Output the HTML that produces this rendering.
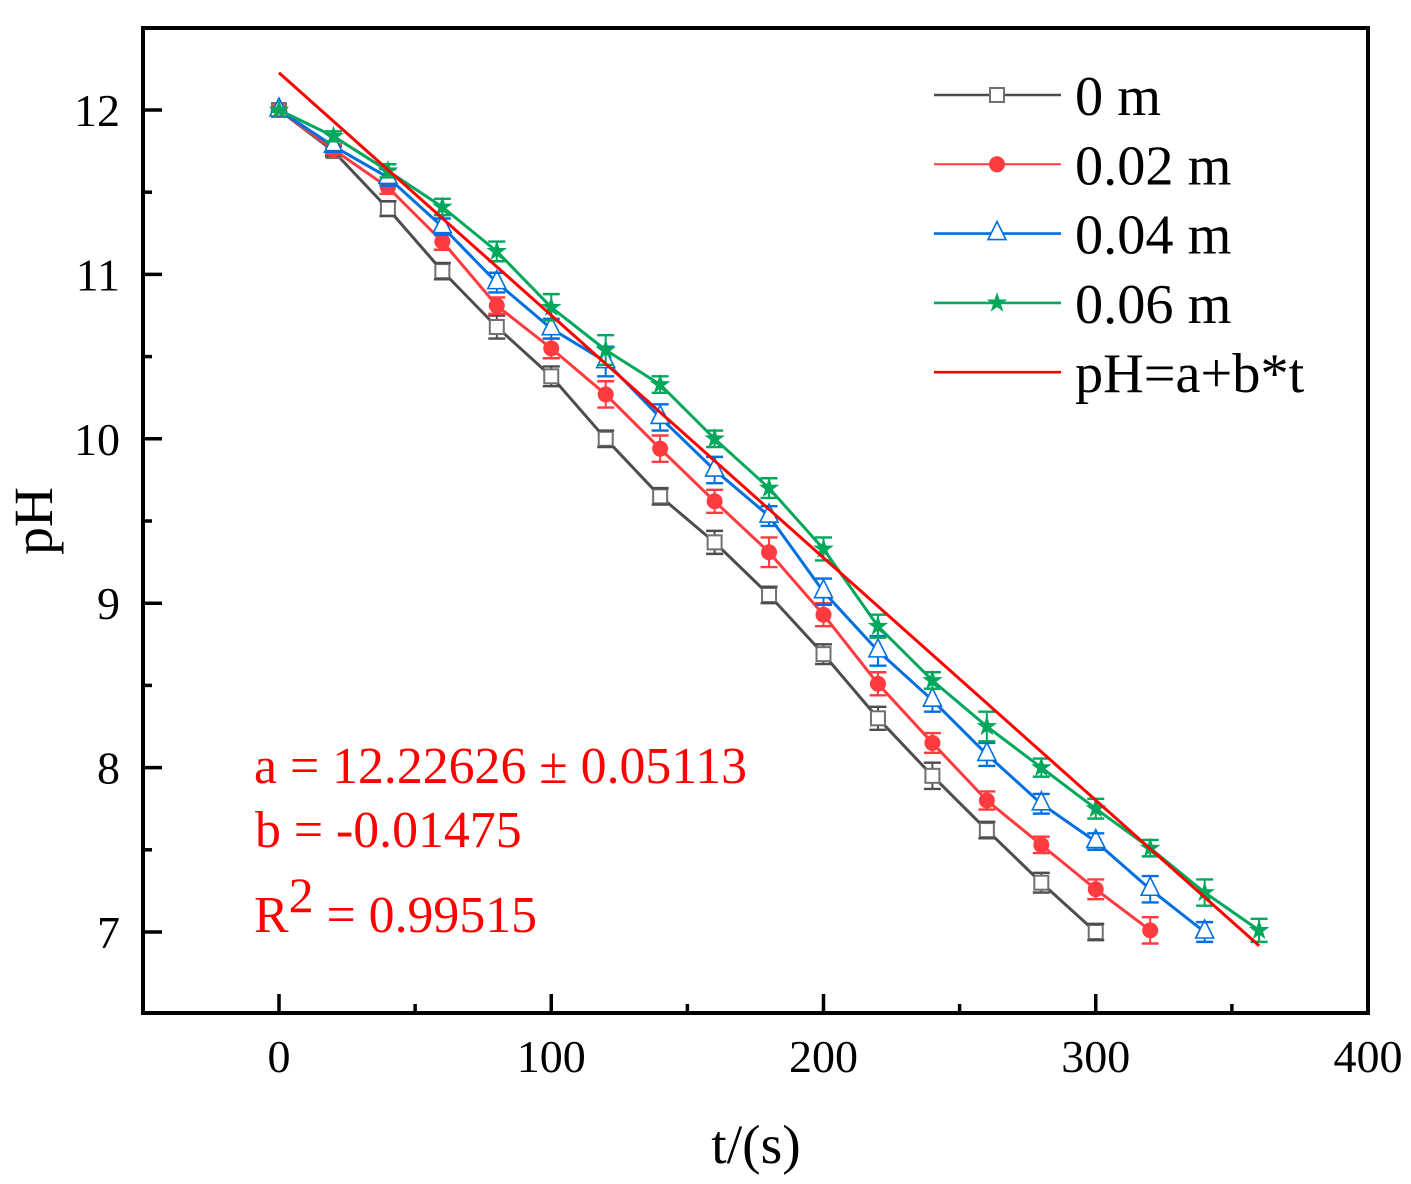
<!DOCTYPE html>
<html lang="en">
<head>
<meta charset="utf-8">
<title>pH versus time</title>
<style>
html,body{margin:0;padding:0;background:#fff;}
svg{display:block;font-family:"Liberation Serif",serif;}
</style>
</head>
<body>
<svg id="chart" width="1411" height="1184" viewBox="0 0 1411 1184" xmlns="http://www.w3.org/2000/svg">
  <rect x="0" y="0" width="1411" height="1184" fill="#ffffff"/>
  <g id="ticks"></g>
  <g id="series"></g>
  <rect x="143" y="28" width="1225" height="985" fill="none" stroke="#000" stroke-width="4"/>
  <text x="756" y="1163" font-size="55.5" text-anchor="middle" fill="#000">t/(s)</text>
  <text transform="translate(52,521) rotate(-90)" font-size="55.5" text-anchor="middle" fill="#000">pH</text>
  <g id="legend" font-size="56.3" fill="#000"></g>
  <g fill="#ff0000" font-size="51.8">
    <text x="254" y="783">a = 12.22626 ± 0.05113</text>
    <text x="255" y="847">b = -0.01475</text>
    <text x="254" y="932">R<tspan dy="-20" font-size="50">2</tspan><tspan dy="20"> = 0.99515</tspan></text>
  </g>
</svg>
<script>
const times = [0,20,40,60,80,100,120,140,160,180,200,220,240,260,280,300,320,340,360];
const ph0 = [12,11.75,11.40,11.02,10.68,10.38,10.00,9.65,9.37,9.05,8.69,8.30,7.95,7.62,7.30,7.00];
const err0 = [0.01,0.03,0.045,0.05,0.07,0.06,0.05,0.05,0.07,0.05,0.06,0.07,0.08,0.05,0.06,0.05];
const ph2 = [12,11.76,11.53,11.20,10.81,10.55,10.27,9.94,9.62,9.31,8.93,8.51,8.15,7.80,7.53,7.26,7.01];
const err2 = [0.01,0.03,0.04,0.05,0.05,0.06,0.08,0.08,0.07,0.09,0.07,0.07,0.06,0.055,0.05,0.06,0.08];
const ph4 = [12,11.78,11.59,11.29,10.95,10.67,10.47,10.13,9.81,9.53,9.07,8.71,8.41,8.08,7.78,7.55,7.26,7.00];
const err4 = [0.01,0.03,0.05,0.05,0.06,0.06,0.09,0.08,0.08,0.06,0.08,0.09,0.07,0.07,0.06,0.05,0.08,0.06];
const ph6 = [12,11.84,11.63,11.41,11.14,10.80,10.54,10.33,10.00,9.70,9.33,8.86,8.53,8.25,8.00,7.75,7.51,7.24,7.01];
const err6 = [0.01,0.03,0.04,0.05,0.06,0.08,0.09,0.05,0.05,0.06,0.07,0.07,0.05,0.09,0.055,0.06,0.05,0.08,0.07];
const fitA = 12.22626;
const fitB = -0.01475;
const fitRange = [0,360];
const xMajor = [0,100,200,300,400];
const xMinor = [50,150,250,350];
const yMajor = [7,8,9,10,11,12];
const yMinor = [7.5,8.5,9.5,10.5,11.5];
const legendLabels = ['0 m','0.02 m','0.04 m','0.06 m','pH=a+b*t'];

const NS = 'http://www.w3.org/2000/svg';
const xAt = t => 279 + (t - 0) * 2.7225;
const yAt = v => 110 + (12 - v) * 164.4;

function make(parent, tag, attrs, name) {
  const el = document.createElementNS(NS, tag);
  for (const k in attrs) el.setAttribute(k, attrs[k]);
  
  
  parent.appendChild(el);
  return el;
}

function marker(parent, kind, x, y, color, name) {
  if (kind === 'square') {
    make(parent, 'rect', {x:x-7, y:y-7, width:14, height:14, fill:'#fff', stroke:'#707070', 'stroke-width':2}, name);
  } else if (kind === 'circle') {
    make(parent, 'circle', {cx:x, cy:y, r:8, fill:color}, name);
  } else if (kind === 'triangle') {
    const pts = [[x,y-12],[x+9,y+6],[x-9,y+6]].map(p => p.join(',')).join(' ');
    make(parent, 'polygon', {points:pts, fill:'#fff', stroke:color, 'stroke-width':1.6}, name);
  } else {
    const pts = [];
    for (let i = 0; i < 10; i++) {
      const r = i % 2 ? 4.2 : 10.8;
      const a = -Math.PI/2 + i*Math.PI/5;
      pts.push((x + r*Math.cos(a)).toFixed(2) + ',' + (y + r*Math.sin(a)).toFixed(2));
    }
    make(parent, 'polygon', {points:pts.join(' '), fill:color}, name);
  }
}

function drawTicks() {
  const g = document.getElementById('ticks');
  xMajor.forEach(t => {
    make(g, 'line', {x1:xAt(t), x2:xAt(t), y1:1013, y2:994, stroke:'#000', 'stroke-width':3.5}, 'x-major-tick');
    const lab = make(g, 'text', {x:xAt(t), y:1072, 'font-size':46, 'text-anchor':'middle', fill:'#000'}, 'x-tick-label');
    lab.textContent = t;
  });
  xMinor.forEach(t => {
    make(g, 'line', {x1:xAt(t), x2:xAt(t), y1:1013, y2:1004, stroke:'#000', 'stroke-width':3.5}, 'x-minor-tick');
  });
  yMajor.forEach(v => {
    make(g, 'line', {x1:143, x2:162, y1:yAt(v), y2:yAt(v), stroke:'#000', 'stroke-width':3.5}, 'y-major-tick');
    const lab = make(g, 'text', {x:120, y:yAt(v)+16, 'font-size':46, 'text-anchor':'end', fill:'#000'}, 'y-tick-label');
    lab.textContent = v;
  });
  yMinor.forEach(v => {
    make(g, 'line', {x1:143, x2:152, y1:yAt(v), y2:yAt(v), stroke:'#000', 'stroke-width':3.5}, 'y-minor-tick');
  });
}

function drawSeries(vals, errs, color, mColor, kind, errColor, slug) {
  const root = document.getElementById('series');
  const g = make(root, 'g', {}, 'series-' + slug);
  const pts = vals.map((v,i) => xAt(times[i]).toFixed(2) + ',' + yAt(v).toFixed(2)).join(' ');
  make(g, 'polyline', {points:pts, fill:'none', stroke:color, 'stroke-width':3, 'stroke-linejoin':'round'}, 'line-' + slug);
  vals.forEach((v,i) => {
    const x = xAt(times[i]);
    const hi = yAt(v + errs[i]);
    const lo = yAt(v - errs[i]);
    make(g, 'line', {x1:x, x2:x, y1:hi, y2:lo, stroke:errColor, 'stroke-width':2}, 'error-bar-' + slug);
  });
  vals.forEach((v,i) => {
    marker(g, kind, xAt(times[i]), yAt(v), mColor, 'point-' + slug);
  });
  vals.forEach((v,i) => {
    const x = xAt(times[i]);
    const hi = yAt(v + errs[i]);
    const lo = yAt(v - errs[i]);
    make(g, 'line', {x1:x-8.5, x2:x+8.5, y1:hi, y2:hi, stroke:errColor, 'stroke-width':2.4}, 'error-cap-' + slug);
    make(g, 'line', {x1:x-8.5, x2:x+8.5, y1:lo, y2:lo, stroke:errColor, 'stroke-width':2.4}, 'error-cap-' + slug);
  });
}

function drawFit() {
  const root = document.getElementById('series');
  make(root, 'line', {
    x1:xAt(fitRange[0]), y1:yAt(fitA + fitB*fitRange[0]),
    x2:xAt(fitRange[1]), y2:yAt(fitA + fitB*fitRange[1]),
    stroke:'#ff0000', 'stroke-width':3
  }, 'linear-fit-line');
}

function drawLegend() {
  const g = document.getElementById('legend');
  const colors = ['#4d4d4d','#ff3b40','#0070e0','#00a85c','#ff0000'];
  const kinds = ['square','circle','triangle','star',null];
  legendLabels.forEach((label,i) => {
    const y = 95 + i*69.3;
    make(g, 'line', {x1:934, x2:1061, y1:y, y2:y, stroke:colors[i], 'stroke-width':i === 1 ? 2 : 2.6}, 'legend-line');
    if (kinds[i]) marker(g, kinds[i], 997, y, colors[i], 'legend-marker');
    const t = make(g, 'text', {x:1075, y:y+20}, 'legend-label');
    t.textContent = label;
  });
}

drawTicks();
drawSeries(ph0, err0, '#4d4d4d', '#707070', 'square', '#4d4d4d', 'depth-0m');
drawSeries(ph2, err2, '#ff3b40', '#ff3b40', 'circle', '#ff3b40', 'depth-0-02m');
drawSeries(ph4, err4, '#0070e0', '#0070e0', 'triangle', '#0070e0', 'depth-0-04m');
drawSeries(ph6, err6, '#00a85c', '#00a85c', 'star', '#00a85c', 'depth-0-06m');
drawFit();
drawLegend();
</script>
</body>
</html>
